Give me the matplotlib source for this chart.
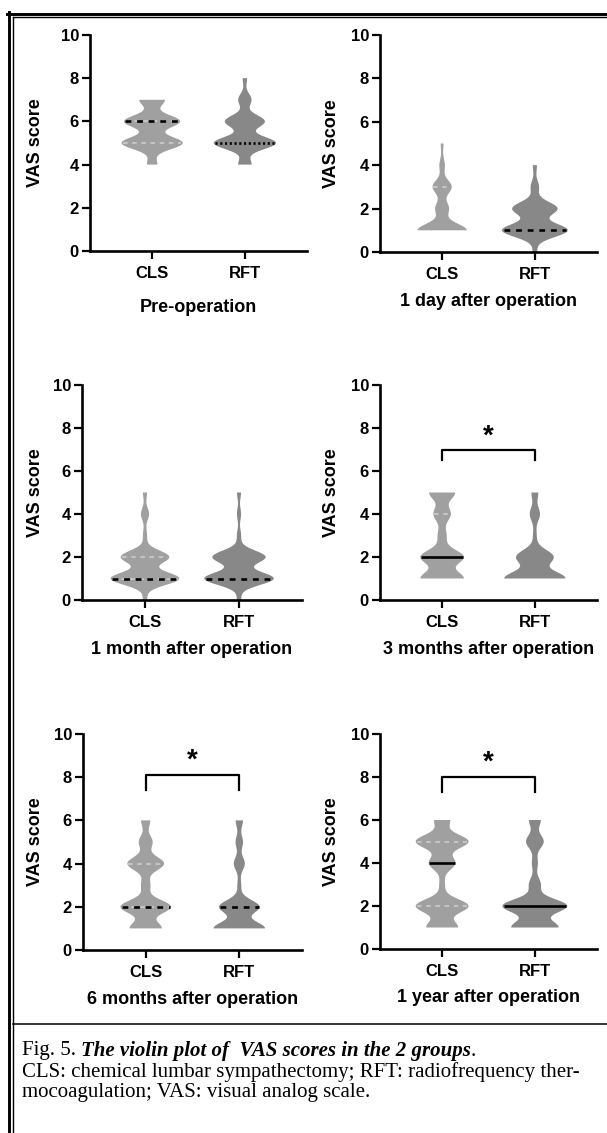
import numpy as np
import matplotlib
matplotlib.use('Agg')
import matplotlib.pyplot as plt
from matplotlib import mlab, cbook
from matplotlib.lines import Line2D

W, H = 607, 1133

titles = ['Pre-operation', '1 day after operation', '1 month after operation',
          '3 months after operation', '6 months after operation', '1 year after operation']
groups = ['CLS', 'RFT']

# VAS score -> number of patients
cls_counts = [
    {4: 2, 5: 12, 6: 11, 7: 5},
    {1: 18, 2: 5, 3: 7, 4: 2, 5: 1},
    {0: 1, 1: 17, 2: 12, 3: 1, 4: 2, 5: 1},
    {1: 10, 2: 10, 3: 2, 4: 4, 5: 6},
    {1: 7, 2: 11, 3: 2, 4: 8, 5: 3, 6: 2},
    {1: 6, 2: 10, 3: 1, 4: 5, 5: 10, 6: 3},
]
rft_counts = [
    {4: 3, 5: 14, 6: 9, 7: 3, 8: 1},
    {0: 1, 1: 16, 2: 11, 3: 2, 4: 1},
    {0: 1, 1: 17, 2: 13, 3: 1, 4: 1, 5: 1},
    {1: 18, 2: 11, 3: 1, 4: 3, 5: 2},
    {1: 14, 2: 11, 3: 1, 4: 3, 5: 2, 6: 2},
    {1: 8, 2: 11, 3: 2, 4: 1, 5: 3, 6: 2},
]
significant = [False, False, False, True, True, True]

# layout (pixels): axes left, right, top (y=10), bottom (y=0)
boxes = [(90, 307, 35, 251), (380, 597, 35, 252), (82, 302, 385, 600),
         (380, 597, 385, 600), (83, 302, 734, 950), (380, 597, 734, 949)]
title_y = [308, 302, 650, 650, 1000, 998]
ylab_x = [36, 332, 36, 332, 36, 332]
widths = [(0.66, 0.67), (0.53, 0.71), (0.73, 0.74), (0.47, 0.66), (0.54, 0.55), (0.57, 0.70)]
bws = [0.29, 0.31, 0.3, 0.33, 0.31, 0.32]
brackets = {3: (6.5, 7.0, 7.6), 4: (7.4, 8.1, 8.75), 5: (7.3, 8.0, 8.65)}
fills = ['#a0a0a0', '#888888']
dash = (0, (2.2, 2.2))
dot = (0, (0.8, 1.0))
median_styles = [(dash, dot), (dash, dash), (dash, dash), ('-', '-'), (dash, dash), ('-', '-')]

plt.rcParams['font.family'] = ['Liberation Sans', 'DejaVu Sans']
plt.rcParams['font.weight'] = 'bold'

fig = plt.figure(figsize=(W / 100, H / 100), dpi=100)


def fx(px):
    return px / W


def fy(py):
    return 1 - py / H


for i, (l, r, t, b) in enumerate(boxes):
    ax = fig.add_axes([fx(l), fy(b), (r - l) / W, (b - t) / H])
    ax.set_xlim(0.33, 2.67)
    ax.set_ylim(0, 10)
    ax.spines[['top', 'right']].set_visible(False)
    for s in ['left', 'bottom']:
        ax.spines[s].set_linewidth(1.9)
    ax.set_yticks(range(0, 11, 2))
    ax.set_xticks([1, 2], groups)
    ax.tick_params(axis='both', width=1.6, length=6, labelsize=12)
    ax.tick_params(axis='x', pad=5)
    ax.tick_params(axis='y', pad=2)

    for gi, counts in enumerate((cls_counts[i], rft_counts[i])):
        data = np.repeat(list(counts.keys()), list(counts.values())).astype(float)
        bw = bws[i]
        stats = cbook.violin_stats(
            data, lambda X, c, bw=bw: mlab.GaussianKDE(X, bw / X.std(ddof=1)).evaluate(c),
            points=400)
        pos = gi + 1
        w = widths[i][gi]
        parts = ax.violin(stats, positions=[pos], widths=w, showextrema=False)
        for body in parts['bodies']:
            body.set_facecolor(fills[gi])
            body.set_edgecolor('none')
            body.set_alpha(1)

        coords, vals = stats[0]['coords'], stats[0]['vals']

        def hline(y, **kw):
            if y <= data.min() or y >= data.max():
                return
            h = 0.5 * w * np.interp(y, coords, vals) / vals.max() * 0.95
            ax.plot([pos - h, pos + h], [y, y], solid_capstyle='butt', **kw)

        if gi == 0:
            for q in np.percentile(data, [25, 75]):
                hline(q, color='#c4c4c4', lw=1.5, ls=dash)
        hline(np.median(data), color='black', lw=1.9, ls=median_styles[i][gi])

    if significant[i]:
        lo, hi, sy = brackets[i]
        ax.plot([1, 1, 2, 2], [lo, hi, hi, lo], color='black', lw=1.6, clip_on=False)
        ax.text(1.5, sy, '*', ha='center', va='center', fontsize=20)

    fig.text(fx((l + r) / 2), fy(title_y[i]), titles[i], ha='center', va='center', fontsize=13)
    fig.text(fx(ylab_x[i]), fy((t + b) / 2), 'VAS score', rotation=90,
             ha='center', va='center', fontsize=13)

# frame lines
fig.add_artist(Line2D([fx(7.3), fx(W)], [fy(13.7), fy(13.7)], color='black', lw=2.1))
fig.add_artist(Line2D([fx(12.7), fx(W)], [fy(17.3), fy(17.3)], color='black', lw=1.0))
fig.add_artist(Line2D([fx(8.7), fx(8.7)], [fy(12.3), fy(H)], color='black', lw=2.1))
fig.add_artist(Line2D([fx(12.7), fx(12.7)], [fy(17.3), fy(H)], color='black', lw=1.0))
fig.add_artist(Line2D([fx(12.7), fx(W)], [fy(1023.5), fy(1023.5)], color='black', lw=1.1))

# caption
cap = dict(family=['Liberation Serif', 'DejaVu Serif'], fontsize=15, va='center', fontweight='normal')
rend = fig.canvas.get_renderer()
x = fx(22)
for s, st, wt in [('Fig. 5. ', 'normal', 'normal'),
                  ('The violin plot of  VAS scores in the 2 groups', 'italic', 'bold'),
                  ('.', 'normal', 'normal')]:
    txt = fig.text(x, fy(1051), s, **{**cap, 'fontstyle': st, 'fontweight': wt})
    x += txt.get_window_extent(rend).width / W
fig.text(fx(22), fy(1072), 'CLS: chemical lumbar sympathectomy; RFT: radiofrequency ther-', **cap)
fig.text(fx(22), fy(1092), 'mocoagulation; VAS: visual analog scale.', **cap)

fig.savefig('out.png', dpi=100)
